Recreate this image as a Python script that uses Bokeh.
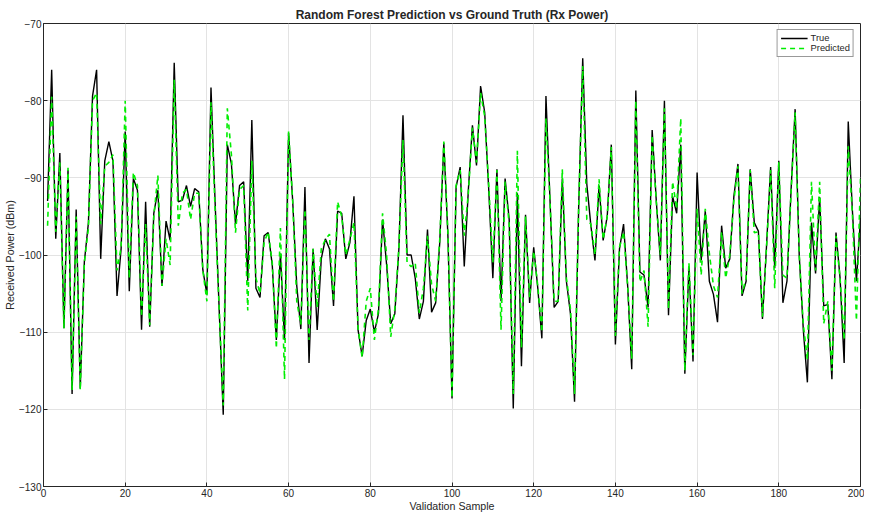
from bokeh.plotting import figure
from bokeh.models import ColumnDataSource, Range1d, FixedTicker, Legend, LegendItem
from bokeh.embed import file_html
from bokeh.resources import INLINE

true_power = [
    -93, -76, -97.9, -86.8, -109.5, -89, -118, -94.1, -117.3, -100.9,
    -95.8, -79.4, -76, -100.5, -87.8, -85.3, -87.8, -105.3, -99.2, -84,
    -104.7, -90.1, -91.6, -109.7, -93.1, -109.3, -94.6, -91.6, -104, -95.6,
    -98.1, -75.1, -93.1, -92.9, -91, -93.7, -91.4, -91.8, -101.9, -105.1,
    -78.3, -93, -107, -120.7, -85.7, -88.2, -96, -91, -90.5, -103.4,
    -82.5, -104.3, -105.5, -97.5, -97.1, -101.3, -111, -99.8, -111, -84.2,
    -93, -104, -109.6, -91.2, -114, -99.2, -109.7, -100.5, -97.9, -99.2,
    -106.6, -94.3, -94.6, -100.5, -98.4, -92.4, -109.7, -113.1, -108.5, -107,
    -110, -107.6, -95.4, -101.3, -108.9, -107.6, -99.2, -81.9, -100, -100,
    -103, -108.3, -106, -96.7, -107.4, -106.2, -98.4, -85.5, -97.5, -118.6,
    -91.2, -88.6, -101.5, -91.6, -83.2, -88.4, -78.1, -81.5, -91.6, -103,
    -88.9, -106, -90.1, -95.4, -119.9, -92, -114.4, -94.8, -106.2, -99,
    -104.3, -110.8, -79.4, -93, -106.8, -106, -90.1, -103.4, -107.6, -119,
    -94, -74.5, -90.8, -96.2, -100.7, -91, -98.1, -95, -85.7, -111.6,
    -99.2, -96, -104, -114.8, -78.7, -102.2, -102.6, -106.8, -83.8, -92.9,
    -100.7, -80, -107.8, -92.4, -94.6, -85.7, -115.4, -101.5, -113.8, -89.3,
    -100.7, -94.3, -103.4, -105.1, -108.7, -96.2, -101.7, -100.5, -92.4, -88.2,
    -105.3, -103.4, -88.9, -95.8, -96.9, -108.3, -98.8, -88.6, -101.7, -87.8,
    -106.2, -103.4, -91.6, -81.1, -100, -109.7, -116.5, -95.8, -102.4, -92.5,
    -106.6, -106.4, -116.1, -97.1, -103, -114, -82.7, -94.1, -103.4, -95.2,
]

predicted_power = [
    -96.2, -79.5, -97, -88, -109.5, -88.7, -117.5, -95, -117.5, -101,
    -96.5, -80, -79, -96, -88.5, -88, -87, -102, -99, -80,
    -103, -89.3, -91, -108, -96, -109.1, -95, -89.7, -104, -97.9,
    -101.3, -77.3, -96.2, -92, -91.5, -95.4, -92, -92, -102, -106,
    -80.2, -94, -107, -119.5, -81, -87, -97.1, -91.5, -91, -107.2,
    -87.8, -103, -105, -98.4, -97, -101, -112.1, -96.5, -116.1, -84,
    -93, -106, -109, -94.1, -111, -99.2, -106.8, -99.2, -98, -97.3,
    -106, -93.1, -95, -100, -98, -95.8, -109.5, -113.3, -106, -104.3,
    -111, -107, -94.6, -100, -110.6, -107, -99, -85.1, -101, -101.5,
    -101, -107.5, -104.3, -97.5, -103.8, -106, -98, -85.3, -97, -118.5,
    -91, -89, -97.5, -92, -83.5, -88, -79, -82, -91, -101,
    -89, -109.7, -90.5, -96, -118, -86.5, -112, -95, -105.5, -99.5,
    -104, -110, -82.3, -93, -106, -106, -88.9, -103, -107, -118,
    -94, -75.5, -95.4, -96, -100, -90.2, -98, -95, -86, -110.5,
    -99, -97, -104, -113.5, -80, -103.5, -102, -109.3, -84.5, -93,
    -100, -81, -107, -90.5, -94, -82.3, -115, -101, -113, -94,
    -102.6, -94, -99.8, -104, -105.5, -97, -103, -100, -93, -88.5,
    -105, -103, -89, -97.1, -97, -108, -99, -89, -104.3, -88,
    -102.6, -103, -92, -81.5, -100, -109, -113.6, -90.5, -102, -90.5,
    -108.9, -106, -115, -97.5, -103, -111, -85.9, -94.5, -108.5, -90,
]

samples = list(range(1, len(true_power) + 1))
x_ticks = [0, 20, 40, 60, 80, 100, 120, 140, 160, 180, 200]
y_ticks = [-130, -120, -110, -100, -90, -80, -70]

FONT = "Liberation Sans"
TXT = "#262626"

src = ColumnDataSource(dict(x=samples, t=true_power, p=predicted_power))

p = figure(width=864, height=514, output_backend="svg", toolbar_location=None,
           x_range=Range1d(0, 200), y_range=Range1d(-130, -70),
           min_border_left=39, min_border_right=4, min_border_top=23, min_border_bottom=20)

p.title.text = "Random Forest Prediction vs Ground Truth (Rx Power)"
p.title.align = "center"
p.title.text_font = FONT
p.title.text_font_size = "9pt"
p.title.text_font_style = "bold"
p.title.text_color = TXT
p.title.standoff = 4
p.title.offset = 0

r_true = p.line("x", "t", source=src, line_color="black", line_width=1.4)
r_pred = p.line("x", "p", source=src, line_color="#00ee00", line_width=1.6, line_dash="5 4")

legend = Legend(items=[LegendItem(label="True", renderers=[r_true]),
                       LegendItem(label="Predicted", renderers=[r_pred])],
                location="top_right")
legend.label_text_font = FONT
legend.label_text_font_size = "7pt"
legend.label_text_color = TXT
legend.border_line_color = "#333333"
legend.border_line_width = 1
legend.glyph_width = 27
legend.glyph_height = 10
legend.label_height = 10
legend.spacing = 0
legend.padding = 3
legend.margin = 6
legend.label_standoff = 3
legend.background_fill_alpha = 1
p.add_layout(legend)

for ax in (p.xaxis, p.yaxis):
    ax.major_label_text_font = FONT
    ax.major_label_text_font_size = "7.5pt"
    ax.major_label_text_color = TXT
    ax.axis_label_text_font = FONT
    ax.axis_label_text_font_size = "8pt"
    ax.axis_label_text_font_style = "normal"
    ax.axis_label_text_color = TXT
    ax.axis_line_color = "#262626"
    ax.major_tick_line_color = "#262626"
    ax.major_tick_in = 4
    ax.major_tick_out = 0
    ax.minor_tick_line_color = None
    ax.major_label_standoff = 2
    ax.axis_label_standoff = 0

p.xaxis.ticker = FixedTicker(ticks=x_ticks)
p.yaxis.ticker = FixedTicker(ticks=y_ticks)
p.xaxis.axis_label = "Validation Sample"
p.yaxis.axis_label = "Received Power (dBm)"

p.grid.grid_line_color = "#e3e3e3"
p.grid.grid_line_width = 1
p.outline_line_color = "#262626"
p.outline_line_width = 1

open("out.html", "w").write(file_html(p, INLINE))
